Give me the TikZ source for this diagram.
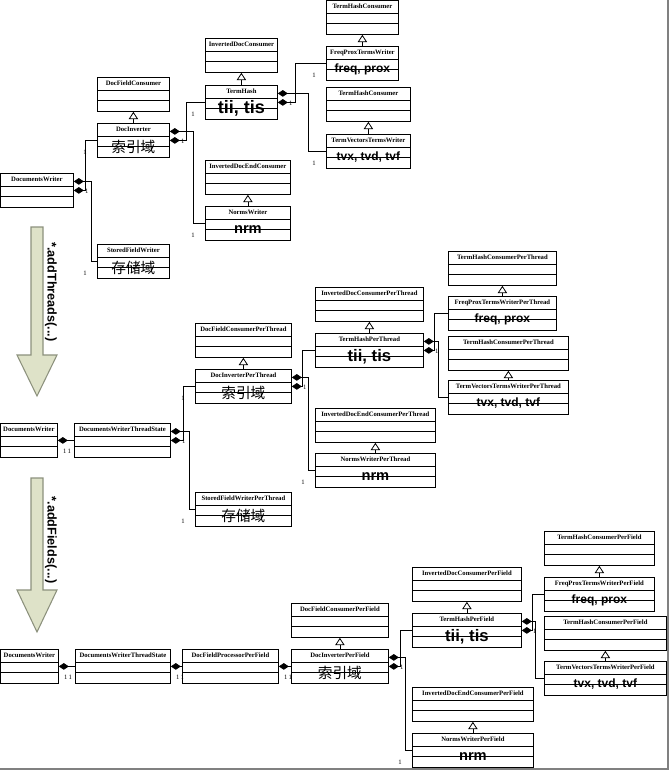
\documentclass[tikz,border=0pt]{standalone}
\usepackage{fontspec}
\setmainfont{Liberation Serif}
\setsansfont{Liberation Sans}
\newfontfamily\cjk{Noto Sans CJK SC}
\usetikzlibrary{arrows.meta,calc}

\tikzset{every picture/.style={line width=0.6pt}}
\tikzset{
  umlbox/.style={draw, inner sep=0pt, minimum height=25.5pt, anchor=north west},
  umltitle/.style={font=\fontsize{5}{6}\selectfont\bfseries, inner sep=0pt},
  umlbig/.style={inner sep=0pt},
  comp/.style={{Diamond[length=7.5pt,width=5pt]}-},
  inh/.style={-{Triangle[open,length=5.5pt,width=7pt]}},
  mult/.style={font=\fontsize{5}{6}\selectfont, inner sep=0pt},
  tgtone/.style={mult, pos=1, xshift=-9pt, yshift=-9pt},
  srcone/.style={mult, xshift=9.75pt, yshift=-7.5pt},
  pairone/.style={mult, xshift=7pt, yshift=-8pt},
  bigarrow/.style={draw={rgb,255:red,140;green,145;blue,125}, fill={rgb,255:red,222;green,226;blue,200}, line width=0.8pt}
}
% name, x, y, width, title, font of big text, big text
\newcommand\umlclass[7]{%
  \node[umlbox, minimum width=#4*0.75pt] (#1) at (#2,#3) {};
  \draw ($(#1.north west)+(0,13)$) -- ($(#1.north east)+(0,13)$);
  \draw ($(#1.north west)+(0,23.5)$) -- ($(#1.north east)+(0,23.5)$);
  \node[umltitle] at ($(#1.north)+(0,6.5)$) {#5};
  \node[umlbig, font=#6] at ($(#1.north)+(0,23.5)$) {#7};
}

\begin{document}
\begin{tikzpicture}[x=0.75pt,y=0.75pt,yscale=-1,xscale=1]
\useasboundingbox (0,0) rectangle (670,772);

% frame shadow
\draw [gray, line width=1.2pt] (0,769) -- (668,769) -- (668,0);

% ---------- DocumentsWriter ----------
\umlclass{thcA}{326}{0}{72}{TermHashConsumer}{}{}
\umlclass{fpw}{326}{46}{72}{FreqProxTermsWriter}{\sffamily\bfseries\fontsize{9}{10}\selectfont}{freq, prox}
\umlclass{thcB}{326}{87}{84}{TermHashConsumer}{}{}
\umlclass{tvw}{326}{134}{84}{TermVectorsTermsWriter}{\sffamily\bfseries\fontsize{9}{10}\selectfont}{tvx, tvd, tvf}
\umlclass{idc}{205}{38}{72}{InvertedDocConsumer}{}{}
\umlclass{th}{205}{85}{72}{TermHash}{\sffamily\bfseries\fontsize{13.5}{14}\selectfont}{tii, tis}
\umlclass{dfc}{97}{77}{72}{DocFieldConsumer}{}{}
\umlclass{dinv}{97}{123}{72}{DocInverter}{\cjk\fontsize{11}{12}\selectfont}{索引域}
\umlclass{idec}{205}{160}{85}{InvertedDocEndConsumer}{}{}
\umlclass{nw}{205}{206}{85}{NormsWriter}{\sffamily\bfseries\fontsize{11}{12}\selectfont}{nrm}
\umlclass{dw}{0}{173}{73}{DocumentsWriter}{}{}
\umlclass{sfw}{97}{244}{72}{StoredFieldWriter}{\cjk\fontsize{11}{12}\selectfont}{存储域}

\draw[inh] (fpw.north) -- (thcA.south);
\draw[inh] (tvw.north) -- (thcB.south);
\draw[inh] (th.north) -- (idc.south);
\draw[inh] (dinv.north) -- (dfc.south);
\draw[inh] (nw.north) -- (idec.south);

\draw[comp] (dw.east) -- ++(12,0) |- node[tgtone]{1} (dinv.west);
\draw[comp] ([yshift=-6.75pt]dw.east) node[srcone]{1} -- ++(18,0) |- node[tgtone]{1} (sfw.west);
\draw[comp] (dinv.east) -- ++(17,0) |- node[tgtone]{1} (th.west);
\draw[comp] ([yshift=-6.75pt]dinv.east) node[srcone]{1} -- ++(24,0) |- node[tgtone]{1} (nw.west);
\draw[comp] (th.east) -- ++(18,0) |- node[tgtone]{1} (fpw.west);
\draw[comp] ([yshift=-6.75pt]th.east) node[srcone]{1} -- ++(31,0) |- node[tgtone]{1} (tvw.west);

% ---------- addThreads ----------
\draw[bigarrow] (31,227) -- (43,227) -- (43,355) -- (57,355) -- (37,396) -- (17,355) -- (31,355) -- cycle;
\node[font=\sffamily\bfseries\fontsize{9.5}{10}\selectfont, rotate=-90, inner sep=0pt] (addthreads) at (51,292) {*.addThreads(...)};

\umlclass{bthcA}{448}{251}{108}{TermHashConsumerPerThread}{}{}
\umlclass{bfpw}{448}{296}{108}{FreqProxTermsWriterPerThread}{\sffamily\bfseries\fontsize{9}{10}\selectfont}{freq, prox}
\umlclass{bthcB}{448}{336}{120}{TermHashConsumerPerThread}{}{}
\umlclass{btvw}{448}{380}{120}{TermVectorsTermsWriterPerThread}{\sffamily\bfseries\fontsize{9}{10}\selectfont}{tvx, tvd, tvf}
\umlclass{bidc}{315}{287}{108}{InvertedDocConsumerPerThread}{}{}
\umlclass{bth}{315}{333}{108}{TermHashPerThread}{\sffamily\bfseries\fontsize{12.5}{13}\selectfont}{tii, tis}
\umlclass{bdfc}{195}{323}{96}{DocFieldConsumerPerThread}{}{}
\umlclass{bdinv}{195}{369}{96}{DocInverterPerThread}{\cjk\fontsize{11}{12}\selectfont}{索引域}
\umlclass{bidec}{315}{408}{120}{InvertedDocEndConsumerPerThread}{}{}
\umlclass{bnw}{315}{453}{120}{NormsWriterPerThread}{\sffamily\bfseries\fontsize{11}{12}\selectfont}{nrm}
\umlclass{bdw}{0}{423}{57}{DocumentsWriter}{}{}
\umlclass{bts}{74}{423}{96}{DocumentsWriterThreadState}{}{}
\umlclass{bsfw}{195}{492}{96}{StoredFieldWriterPerThread}{\cjk\fontsize{11}{12}\selectfont}{存储域}

\draw[inh] (bfpw.north) -- (bthcA.south);
\draw[inh] (btvw.north) -- (bthcB.south);
\draw[inh] (bth.north) -- (bidc.south);
\draw[inh] (bdinv.north) -- (bdfc.south);
\draw[inh] (bnw.north) -- (bidec.south);

\draw[comp] (bdw.east) node[pairone]{1\,1} -- (bts.west);
\draw[comp] (bts.east) -- ++(13,0) |- node[tgtone]{1} (bdinv.west);
\draw[comp] ([yshift=-6.75pt]bts.east) node[srcone]{1} -- ++(19,0) |- node[tgtone]{1} (bsfw.west);
\draw[comp] (bdinv.east) -- ++(11,0) |- (bth.west);
\draw[comp] ([yshift=-6.75pt]bdinv.east) node[srcone]{1} -- ++(17,0) |- node[tgtone]{1} (bnw.west);
\draw[comp] (bth.east) -- ++(11,0) |- (bfpw.west);
\draw[comp] ([yshift=-6.75pt]bth.east) node[srcone]{1} -- ++(15,0) |- (btvw.west);

% ---------- addFields ----------
\draw[bigarrow] (31,478) -- (43,478) -- (43,590) -- (57,590) -- (37,632) -- (17,590) -- (31,590) -- cycle;
\node[font=\sffamily\bfseries\fontsize{9.5}{10}\selectfont, rotate=-90, inner sep=0pt] (addfields) at (51,540) {*.addFields(...)};

\umlclass{cthcA}{544}{531}{110}{TermHashConsumerPerField}{}{}
\umlclass{cfpw}{544}{577}{110}{FreqProxTermsWriterPerField}{\sffamily\bfseries\fontsize{9}{10}\selectfont}{freq, prox}
\umlclass{cthcB}{544}{616}{122}{TermHashConsumerPerField}{}{}
\umlclass{ctvw}{544}{661}{122}{TermVectorsTermsWriterPerField}{\sffamily\bfseries\fontsize{9}{10}\selectfont}{tvx, tvd, tvf}
\umlclass{cidc}{412}{567}{109}{InvertedDocConsumerPerField}{}{}
\umlclass{cth}{412}{613}{109}{TermHashPerField}{\sffamily\bfseries\fontsize{12.5}{13}\selectfont}{tii, tis}
\umlclass{cdfc}{291}{603}{97}{DocFieldConsumerPerField}{}{}
\umlclass{cdinv}{291}{649}{97}{DocInverterPerField}{\cjk\fontsize{11}{12}\selectfont}{索引域}
\umlclass{cidec}{412}{687}{121}{InvertedDocEndConsumerPerField}{}{}
\umlclass{cnw}{412}{733}{121}{NormsWriterPerField}{\sffamily\bfseries\fontsize{11}{12}\selectfont}{nrm}
\umlclass{cdw}{0}{649}{58}{DocumentsWriter}{}{}
\umlclass{cts}{75}{649}{95}{DocumentsWriterThreadState}{}{}
\umlclass{cdfp}{182}{649}{96}{DocFieldProcessorPerField}{}{}

\draw[inh] (cfpw.north) -- (cthcA.south);
\draw[inh] (ctvw.north) -- (cthcB.south);
\draw[inh] (cth.north) -- (cidc.south);
\draw[inh] (cdinv.north) -- (cdfc.south);
\draw[inh] (cnw.north) -- (cidec.south);

\draw[comp] (cdw.east) node[pairone]{1\,1} -- (cts.west);
\draw[comp] (cts.east) node[pairone]{1\,1} -- (cdfp.west);
\draw[comp] (cdfp.east) node[pairone]{1\,1} -- (cdinv.west);
\draw[comp] (cdinv.east) -- ++(12,0) |- (cth.west);
\draw[comp] ([yshift=-6.75pt]cdinv.east) node[srcone]{1} -- ++(17,0) |- node[tgtone]{1} (cnw.west);
\draw[comp] (cth.east) -- ++(11,0) |- (cfpw.west);
\draw[comp] ([yshift=-6.75pt]cth.east) node[srcone]{1} -- ++(14,0) |- (ctvw.west);

\end{tikzpicture}
\end{document}
